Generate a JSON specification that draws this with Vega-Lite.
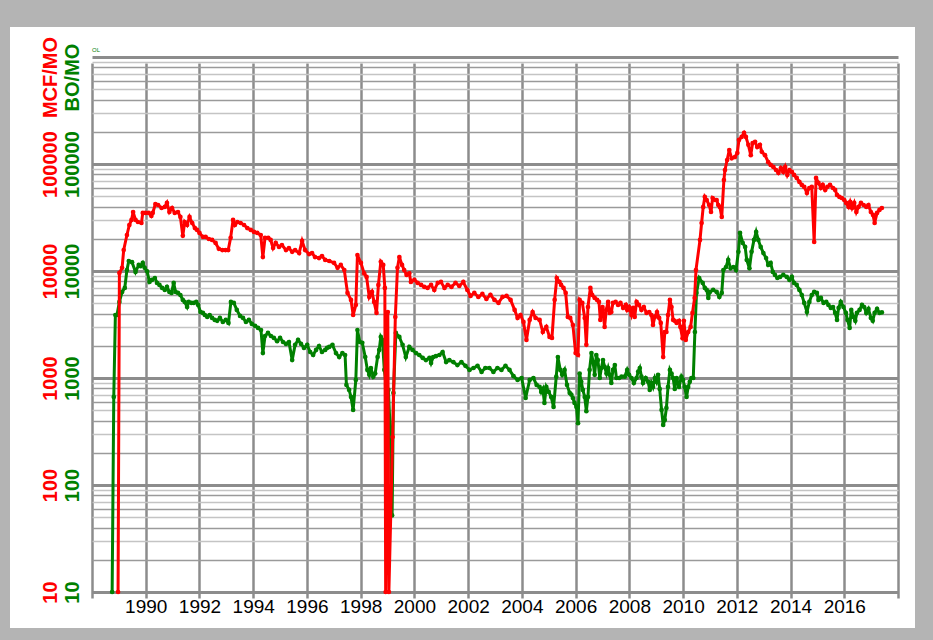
{
"$schema": "https://vega.github.io/schema/vega-lite/v6.json",
"width": 905, "height": 601,
"autosize": "none",
"padding": {"left": 10, "top": 27, "right": 18, "bottom": 12},
"background": "#b4b4b4",
"config": {"view": {"fill": "white", "stroke": null}, "font": "Liberation Sans"},
"title": {"text": "OL", "fontSize": 6, "fontWeight": "normal", "color": "#008000", "anchor": "start", "frame": "group", "dx": 82, "dy": 26, "offset": 0},
"datasets": {
"oil": [
{"year":1988.75,"value":1},{"year":1988.81,"value":665},{"year":1988.87,"value":3880},{"year":1988.93,"value":3880},{"year":1989.02,"value":5140},{"year":1989.12,"value":6370},{"year":1989.22,"value":6950},{"year":1989.30,"value":10200},{"year":1989.37,"value":12400},{"year":1989.49,"value":12100},{"year":1989.62,"value":9800},{"year":1989.74,"value":11400},{"year":1989.81,"value":11100},{"year":1989.89,"value":11900},{"year":1989.96,"value":10700},
{"year":1990.05,"value":9950},{"year":1990.14,"value":7900},{"year":1990.23,"value":8250},{"year":1990.34,"value":8600},{"year":1990.42,"value":7740},{"year":1990.51,"value":7410},{"year":1990.61,"value":6950},{"year":1990.71,"value":6650},{"year":1990.79,"value":7100},{"year":1990.88,"value":6370},{"year":1990.96,"value":6240},
{"year":1991.04,"value":7740},{"year":1991.11,"value":6370},{"year":1991.20,"value":6240},{"year":1991.29,"value":5970},{"year":1991.38,"value":5370},{"year":1991.45,"value":5140},{"year":1991.54,"value":4610},{"year":1991.60,"value":5140},{"year":1991.70,"value":5030},{"year":1991.79,"value":5030},{"year":1991.88,"value":5140},{"year":1991.95,"value":4820},
{"year":1992.04,"value":4140},{"year":1992.13,"value":4060},{"year":1992.20,"value":3880},{"year":1992.29,"value":3720},{"year":1992.38,"value":3880},{"year":1992.47,"value":3640},{"year":1992.57,"value":3490},{"year":1992.66,"value":3420},{"year":1992.76,"value":3640},{"year":1992.87,"value":3340},{"year":1992.98,"value":3490},
{"year":1993.08,"value":3270},{"year":1993.17,"value":5140},{"year":1993.28,"value":5030},{"year":1993.39,"value":4330},{"year":1993.51,"value":3800},{"year":1993.62,"value":3640},{"year":1993.73,"value":3340},{"year":1993.84,"value":3490},{"year":1993.95,"value":3200},
{"year":1994.07,"value":3070},{"year":1994.18,"value":2940},{"year":1994.29,"value":2810},{"year":1994.36,"value":1710},{"year":1994.44,"value":2470},{"year":1994.55,"value":2640},{"year":1994.66,"value":2470},{"year":1994.77,"value":2370},{"year":1994.89,"value":2210},
{"year":1995.00,"value":2370},{"year":1995.11,"value":2170},{"year":1995.22,"value":2080},{"year":1995.33,"value":2170},{"year":1995.45,"value":1470},{"year":1995.56,"value":2040},{"year":1995.67,"value":2270},{"year":1995.78,"value":2080},{"year":1995.89,"value":1910},
{"year":1996.01,"value":2040},{"year":1996.12,"value":1750},{"year":1996.23,"value":1640},{"year":1996.34,"value":1830},{"year":1996.45,"value":1990},{"year":1996.56,"value":1750},{"year":1996.68,"value":1830},{"year":1996.75,"value":1910},{"year":1996.83,"value":1950},{"year":1996.95,"value":2040},
{"year":1997.08,"value":1710},{"year":1997.20,"value":1570},{"year":1997.32,"value":1710},{"year":1997.42,"value":1640},{"year":1997.47,"value":861},{"year":1997.57,"value":774},{"year":1997.64,"value":665},{"year":1997.72,"value":503},{"year":1997.82,"value":959},{"year":1997.88,"value":2810},{"year":1997.97,"value":2170},
{"year":1998.06,"value":2130},{"year":1998.17,"value":1570},{"year":1998.25,"value":1190},{"year":1998.32,"value":1070},{"year":1998.38,"value":1240},{"year":1998.47,"value":1030},{"year":1998.54,"value":1100},{"year":1998.63,"value":1570},{"year":1998.69,"value":1830},{"year":1998.75,"value":2420},{"year":1998.81,"value":2270},{"year":1998.88,"value":1190},{"year":1998.95,"value":861},
{"year":1999.03,"value":774},{"year":1999.10,"value":327},{"year":1999.17,"value":52},{"year":1999.22,"value":725},{"year":1999.31,"value":2640},{"year":1999.44,"value":2420},{"year":1999.56,"value":2040},{"year":1999.68,"value":1570},{"year":1999.81,"value":1950},{"year":1999.93,"value":1830},
{"year":2000.06,"value":1710},{"year":2000.18,"value":1640},{"year":2000.31,"value":1540},{"year":2000.43,"value":1470},{"year":2000.56,"value":1540},{"year":2000.62,"value":1380},{"year":2000.70,"value":1570},{"year":2000.80,"value":1600},{"year":2000.93,"value":1640},
{"year":2001.05,"value":1750},{"year":2001.18,"value":1410},{"year":2001.30,"value":1470},{"year":2001.45,"value":1410},{"year":2001.60,"value":1320},{"year":2001.75,"value":1410},{"year":2001.90,"value":1300},
{"year":2002.05,"value":1190},{"year":2002.20,"value":1240},{"year":2002.35,"value":1300},{"year":2002.50,"value":1140},{"year":2002.64,"value":1240},{"year":2002.79,"value":1240},{"year":2002.94,"value":1140},
{"year":2003.09,"value":1240},{"year":2003.24,"value":1190},{"year":2003.39,"value":1300},{"year":2003.54,"value":1190},{"year":2003.69,"value":1040},{"year":2003.84,"value":959},{"year":2003.99,"value":1000},
{"year":2004.14,"value":650},{"year":2004.29,"value":959},{"year":2004.43,"value":1000},{"year":2004.55,"value":861},{"year":2004.66,"value":825},{"year":2004.72,"value":741},{"year":2004.78,"value":790},{"year":2004.84,"value":585},{"year":2004.91,"value":825},
{"year":2005.00,"value":741},{"year":2005.09,"value":665},{"year":2005.18,"value":537},{"year":2005.28,"value":1030},{"year":2005.34,"value":1570},{"year":2005.43,"value":1190},{"year":2005.50,"value":1070},{"year":2005.59,"value":1190},{"year":2005.68,"value":861},{"year":2005.78,"value":725},{"year":2005.84,"value":700},{"year":2005.90,"value":650},{"year":2005.96,"value":585},
{"year":2006.03,"value":537},{"year":2006.09,"value":378},{"year":2006.15,"value":1100},{"year":2006.21,"value":921},{"year":2006.27,"value":774},{"year":2006.34,"value":665},{"year":2006.40,"value":490},{"year":2006.46,"value":665},{"year":2006.52,"value":1190},{"year":2006.59,"value":1710},{"year":2006.65,"value":1410},{"year":2006.71,"value":1070},{"year":2006.77,"value":1640},{"year":2006.83,"value":1470},{"year":2006.90,"value":1000},{"year":2006.96,"value":1240},
{"year":2007.02,"value":1470},{"year":2007.08,"value":1270},{"year":2007.15,"value":1100},{"year":2007.21,"value":1240},{"year":2007.27,"value":1070},{"year":2007.33,"value":899},{"year":2007.39,"value":1190},{"year":2007.46,"value":1320},{"year":2007.52,"value":1000},{"year":2007.62,"value":1000},{"year":2007.71,"value":1030},{"year":2007.83,"value":1030},{"year":2007.92,"value":1190},{"year":2007.99,"value":1070},
{"year":2008.08,"value":1000},{"year":2008.17,"value":899},{"year":2008.27,"value":1000},{"year":2008.33,"value":1150},{"year":2008.39,"value":1240},{"year":2008.45,"value":1030},{"year":2008.51,"value":899},{"year":2008.61,"value":1000},{"year":2008.70,"value":921},{"year":2008.76,"value":774},{"year":2008.82,"value":899},{"year":2008.88,"value":825},{"year":2008.95,"value":1000},
{"year":2009.01,"value":921},{"year":2009.07,"value":1070},{"year":2009.13,"value":790},{"year":2009.20,"value":503},{"year":2009.26,"value":364},{"year":2009.32,"value":405},{"year":2009.38,"value":525},{"year":2009.44,"value":825},{"year":2009.51,"value":1190},{"year":2009.57,"value":1100},{"year":2009.63,"value":1000},{"year":2009.69,"value":790},{"year":2009.76,"value":1000},{"year":2009.85,"value":825},{"year":2009.94,"value":1030},
{"year":2010.00,"value":959},{"year":2010.06,"value":825},{"year":2010.13,"value":665},{"year":2010.19,"value":825},{"year":2010.25,"value":921},{"year":2010.31,"value":1000},{"year":2010.38,"value":1000},{"year":2010.44,"value":2690},{"year":2010.50,"value":6240},{"year":2010.60,"value":8600},{"year":2010.73,"value":7740},{"year":2010.81,"value":6950},{"year":2010.88,"value":6650},{"year":2010.94,"value":5600},
{"year":2011.00,"value":6370},{"year":2011.12,"value":6650},{"year":2011.25,"value":6370},{"year":2011.35,"value":5720},{"year":2011.44,"value":6240},{"year":2011.50,"value":10200},{"year":2011.60,"value":10900},{"year":2011.68,"value":12700},{"year":2011.77,"value":10600},{"year":2011.87,"value":10900},{"year":2011.97,"value":10200},
{"year":2012.06,"value":15100},{"year":2012.12,"value":22700},{"year":2012.22,"value":18300},{"year":2012.31,"value":16800},{"year":2012.37,"value":12700},{"year":2012.47,"value":10600},{"year":2012.55,"value":15100},{"year":2012.64,"value":19500},{"year":2012.72,"value":23200},{"year":2012.80,"value":19500},{"year":2012.89,"value":16800},{"year":2012.99,"value":14700},
{"year":2013.09,"value":13200},{"year":2013.17,"value":11400},{"year":2013.26,"value":11900},{"year":2013.34,"value":9800},{"year":2013.42,"value":9190},{"year":2013.51,"value":8600},{"year":2013.61,"value":8800},{"year":2013.73,"value":9190},{"year":2013.86,"value":8800},{"year":2013.96,"value":8250},
{"year":2014.05,"value":8800},{"year":2014.13,"value":7740},{"year":2014.23,"value":7410},{"year":2014.33,"value":6650},{"year":2014.42,"value":5970},{"year":2014.51,"value":5030},{"year":2014.61,"value":4140},{"year":2014.70,"value":5140},{"year":2014.79,"value":5970},{"year":2014.88,"value":6370},{"year":2014.98,"value":6240},
{"year":2015.04,"value":5370},{"year":2015.13,"value":5600},{"year":2015.23,"value":5030},{"year":2015.33,"value":5140},{"year":2015.41,"value":4820},{"year":2015.50,"value":4520},{"year":2015.58,"value":4610},{"year":2015.66,"value":4060},{"year":2015.73,"value":3490},{"year":2015.79,"value":4520},{"year":2015.87,"value":5140},{"year":2015.97,"value":4610},
{"year":2016.06,"value":4060},{"year":2016.12,"value":3490},{"year":2016.20,"value":2940},{"year":2016.26,"value":4330},{"year":2016.34,"value":3720},{"year":2016.41,"value":3420},{"year":2016.47,"value":4060},{"year":2016.57,"value":4330},{"year":2016.66,"value":4820},{"year":2016.74,"value":4610},{"year":2016.82,"value":4060},{"year":2016.90,"value":4420},{"year":2016.99,"value":3640},
{"year":2017.06,"value":3420},{"year":2017.13,"value":4060},{"year":2017.22,"value":4420},{"year":2017.31,"value":4060},{"year":2017.40,"value":4100}
],
"gas": [
{"year":1988.97,"value":1},{"year":1989.02,"value":9590},{"year":1989.12,"value":10700},{"year":1989.18,"value":15700},{"year":1989.30,"value":21700},{"year":1989.39,"value":26900},{"year":1989.47,"value":30000},{"year":1989.53,"value":35600},{"year":1989.62,"value":30000},{"year":1989.71,"value":28700},{"year":1989.84,"value":28100},{"year":1989.89,"value":34900},{"year":1989.99,"value":34900},
{"year":1990.11,"value":34900},{"year":1990.21,"value":32700},{"year":1990.26,"value":34900},{"year":1990.36,"value":42300},{"year":1990.46,"value":41400},{"year":1990.59,"value":38800},{"year":1990.71,"value":39700},{"year":1990.79,"value":43300},{"year":1990.88,"value":35600},{"year":1990.98,"value":38800},
{"year":1991.08,"value":34900},{"year":1991.20,"value":35600},{"year":1991.29,"value":32000},{"year":1991.38,"value":21300},{"year":1991.45,"value":28700},{"year":1991.54,"value":26900},{"year":1991.63,"value":32000},{"year":1991.73,"value":28100},{"year":1991.83,"value":25200},{"year":1991.91,"value":24200},
{"year":1992.00,"value":22700},{"year":1992.13,"value":20800},{"year":1992.23,"value":20800},{"year":1992.35,"value":19900},{"year":1992.47,"value":19500},{"year":1992.60,"value":18300},{"year":1992.72,"value":16100},{"year":1992.85,"value":15700},{"year":1992.97,"value":15700},
{"year":1993.07,"value":15700},{"year":1993.16,"value":20400},{"year":1993.25,"value":30000},{"year":1993.32,"value":26900},{"year":1993.41,"value":28700},{"year":1993.53,"value":28100},{"year":1993.66,"value":26900},{"year":1993.78,"value":25200},{"year":1993.91,"value":24200},
{"year":1994.03,"value":23200},{"year":1994.15,"value":22700},{"year":1994.28,"value":21700},{"year":1994.36,"value":13500},{"year":1994.44,"value":20400},{"year":1994.56,"value":20400},{"year":1994.65,"value":19500},{"year":1994.74,"value":16400},{"year":1994.84,"value":18300},{"year":1994.96,"value":16800},
{"year":1995.07,"value":17500},{"year":1995.22,"value":15700},{"year":1995.33,"value":16400},{"year":1995.45,"value":15100},{"year":1995.56,"value":15700},{"year":1995.71,"value":14700},{"year":1995.82,"value":19100},{"year":1995.93,"value":15700},
{"year":1996.08,"value":14400},{"year":1996.19,"value":14700},{"year":1996.30,"value":13500},{"year":1996.45,"value":13200},{"year":1996.56,"value":13800},{"year":1996.68,"value":12700},{"year":1996.83,"value":12400},
{"year":1997.01,"value":11900},{"year":1997.14,"value":10700},{"year":1997.26,"value":11400},{"year":1997.39,"value":10200},{"year":1997.51,"value":6240},{"year":1997.64,"value":5370},{"year":1997.72,"value":3880},{"year":1997.82,"value":4820},{"year":1997.88,"value":14100},
{"year":1998.01,"value":11900},{"year":1998.13,"value":9500},{"year":1998.22,"value":8800},{"year":1998.32,"value":5720},{"year":1998.42,"value":6370},{"year":1998.50,"value":5140},{"year":1998.59,"value":4060},{"year":1998.66,"value":7410},{"year":1998.75,"value":12200},{"year":1998.84,"value":11400},{"year":1998.90,"value":6950},{"year":1998.93,"value":1},
{"year":1999.01,"value":4140},{"year":1999.05,"value":1},{"year":1999.19,"value":281},{"year":1999.29,"value":3720},{"year":1999.37,"value":10700},{"year":1999.44,"value":13500},{"year":1999.54,"value":11400},{"year":1999.62,"value":10200},{"year":1999.71,"value":9190},{"year":1999.81,"value":9500},{"year":1999.87,"value":7900},
{"year":2000.00,"value":8250},{"year":2000.12,"value":7740},{"year":2000.25,"value":7410},{"year":2000.37,"value":7100},{"year":2000.49,"value":6950},{"year":2000.62,"value":7410},{"year":2000.74,"value":6650},{"year":2000.87,"value":7740},{"year":2000.99,"value":7900},
{"year":2001.12,"value":6950},{"year":2001.24,"value":7410},{"year":2001.38,"value":7100},{"year":2001.53,"value":7740},{"year":2001.67,"value":7250},{"year":2001.82,"value":7900},{"year":2001.97,"value":6650},
{"year":2002.09,"value":5850},{"year":2002.23,"value":6240},{"year":2002.38,"value":5720},{"year":2002.53,"value":6100},{"year":2002.68,"value":5480},{"year":2002.83,"value":6000},{"year":2002.98,"value":5370},
{"year":2003.13,"value":5030},{"year":2003.28,"value":5720},{"year":2003.43,"value":5850},{"year":2003.58,"value":5370},{"year":2003.73,"value":4330},{"year":2003.84,"value":3640},{"year":2003.95,"value":3880},
{"year":2004.06,"value":3340},{"year":2004.17,"value":2270},{"year":2004.29,"value":3490},{"year":2004.40,"value":4140},{"year":2004.51,"value":3640},{"year":2004.66,"value":3490},{"year":2004.78,"value":2690},{"year":2004.91,"value":3000},
{"year":2005.03,"value":2420},{"year":2005.12,"value":2370},{"year":2005.22,"value":5370},{"year":2005.30,"value":8600},{"year":2005.40,"value":7900},{"year":2005.46,"value":7410},{"year":2005.55,"value":6950},{"year":2005.63,"value":6240},{"year":2005.71,"value":3720},{"year":2005.80,"value":3640},{"year":2005.90,"value":3130},
{"year":2006.00,"value":1710},{"year":2006.09,"value":1640},{"year":2006.15,"value":5370},{"year":2006.25,"value":5030},{"year":2006.34,"value":3640},{"year":2006.40,"value":2040},{"year":2006.46,"value":4610},{"year":2006.55,"value":6950},{"year":2006.62,"value":5970},{"year":2006.71,"value":5600},{"year":2006.80,"value":5370},{"year":2006.87,"value":5140},{"year":2006.92,"value":3490},
{"year":2007.00,"value":4610},{"year":2007.08,"value":3000},{"year":2007.14,"value":4330},{"year":2007.21,"value":5140},{"year":2007.27,"value":4060},{"year":2007.33,"value":4140},{"year":2007.39,"value":5030},{"year":2007.49,"value":5140},{"year":2007.58,"value":4820},{"year":2007.67,"value":5030},{"year":2007.77,"value":4520},{"year":2007.87,"value":4820},{"year":2007.92,"value":4330},{"year":2007.99,"value":4610},
{"year":2008.08,"value":3880},{"year":2008.14,"value":4520},{"year":2008.20,"value":3720},{"year":2008.27,"value":5140},{"year":2008.36,"value":4820},{"year":2008.45,"value":4330},{"year":2008.54,"value":4610},{"year":2008.64,"value":4060},{"year":2008.74,"value":4140},{"year":2008.82,"value":3880},{"year":2008.88,"value":3130},{"year":2008.95,"value":3720},
{"year":2009.03,"value":4140},{"year":2009.11,"value":3640},{"year":2009.17,"value":3270},{"year":2009.26,"value":1570},{"year":2009.32,"value":2690},{"year":2009.38,"value":2690},{"year":2009.44,"value":3880},{"year":2009.51,"value":5370},{"year":2009.57,"value":4610},{"year":2009.63,"value":3490},{"year":2009.69,"value":3420},{"year":2009.76,"value":3270},{"year":2009.85,"value":3420},{"year":2009.90,"value":3000},{"year":2009.98,"value":2350},
{"year":2010.03,"value":3420},{"year":2010.10,"value":2270},{"year":2010.19,"value":2690},{"year":2010.28,"value":3000},{"year":2010.35,"value":4060},{"year":2010.43,"value":5600},{"year":2010.48,"value":10200},{"year":2010.63,"value":19500},{"year":2010.69,"value":28100},{"year":2010.75,"value":39700},{"year":2010.81,"value":49200},{"year":2010.88,"value":46100},{"year":2010.97,"value":41400},
{"year":2011.04,"value":35600},{"year":2011.10,"value":48100},{"year":2011.19,"value":46100},{"year":2011.25,"value":46100},{"year":2011.31,"value":41400},{"year":2011.37,"value":39700},{"year":2011.44,"value":32000},{"year":2011.52,"value":70900},{"year":2011.56,"value":87900},{"year":2011.64,"value":109000},{"year":2011.72,"value":135000},{"year":2011.81,"value":113000},{"year":2011.93,"value":116000},
{"year":2012.02,"value":127000},{"year":2012.08,"value":168000},{"year":2012.18,"value":179000},{"year":2012.27,"value":195000},{"year":2012.34,"value":179000},{"year":2012.43,"value":151000},{"year":2012.52,"value":121000},{"year":2012.59,"value":157000},{"year":2012.68,"value":161000},{"year":2012.76,"value":144000},{"year":2012.86,"value":151000},{"year":2012.93,"value":130000},
{"year":2013.05,"value":121000},{"year":2013.17,"value":104000},{"year":2013.26,"value":98000},{"year":2013.36,"value":93900},{"year":2013.46,"value":87900},{"year":2013.55,"value":82500},{"year":2013.64,"value":91800},{"year":2013.73,"value":84300},{"year":2013.80,"value":93900},{"year":2013.88,"value":79000},{"year":2013.96,"value":87900},
{"year":2014.05,"value":84300},{"year":2014.13,"value":79000},{"year":2014.23,"value":74100},{"year":2014.33,"value":68000},{"year":2014.42,"value":63700},{"year":2014.51,"value":61000},{"year":2014.61,"value":53600},{"year":2014.70,"value":59700},{"year":2014.79,"value":61000},{"year":2014.88,"value":18700},{"year":2014.95,"value":74100},
{"year":2015.04,"value":66500},{"year":2015.13,"value":59700},{"year":2015.20,"value":63700},{"year":2015.29,"value":57200},{"year":2015.37,"value":61000},{"year":2015.47,"value":63700},{"year":2015.58,"value":59700},{"year":2015.66,"value":57200},{"year":2015.73,"value":51400},{"year":2015.82,"value":49200},{"year":2015.91,"value":48100},
{"year":2016.00,"value":46100},{"year":2016.07,"value":43300},{"year":2016.16,"value":39700},{"year":2016.22,"value":44200},{"year":2016.29,"value":38800},{"year":2016.37,"value":43300},{"year":2016.45,"value":35600},{"year":2016.53,"value":39700},{"year":2016.62,"value":43300},{"year":2016.72,"value":41400},{"year":2016.82,"value":39700},{"year":2016.90,"value":41400},{"year":2016.99,"value":35600},
{"year":2017.07,"value":33400},{"year":2017.13,"value":28100},{"year":2017.22,"value":34900},{"year":2017.31,"value":37200},{"year":2017.40,"value":38800}
]
},
"encoding": {
  "x": {"field": "year", "type": "quantitative",
    "scale": {"domain": [1988, 2018], "range": [82, 888], "nice": false, "zero": false},
    "axis": {"orient": "bottom", "offset": -36, "title": null,
      "values": [1988,1990,1992,1994,1996,1998,2000,2002,2004,2006,2008,2010,2012,2014,2016,2018],
      "grid": true, "gridColor": "#8c8c8c", "gridWidth": 2.5, "domain": false, "ticks": false,
      "labelExpr": "datum.value == 1988 || datum.value == 2018 ? '' : format(datum.value, 'd')",
      "labelFontSize": 19, "labelColor": "#000000", "labelPadding": 5, "labelFlush": false, "labelOverlap": false, "labelBound": false}
  }
},
"layer": [
  {
    "data": {"name": "oil"},
    "mark": {"type": "line", "color": "#008000", "strokeWidth": 3, "clip": true, "point": {"filled": true, "size": 22, "color": "#008000"}},
    "encoding": {
      "y": {"field": "value", "type": "quantitative",
        "scale": {"type": "log", "domain": [10, 1000000], "range": [565, 30], "clamp": true, "nice": false},
        "axis": {"orient": "left", "offset": -82,
          "values": [10,20,30,40,50,60,70,80,90,100,200,300,400,500,600,700,800,900,1000,2000,3000,4000,5000,6000,7000,8000,9000,10000,20000,30000,40000,50000,60000,70000,80000,90000,100000,200000,300000,400000,500000,600000,700000,800000,900000,1000000],
          "grid": true,
          "gridColor": {"condition": [
              {"test": "indexof([10,100,1000,10000,100000,1000000], datum.value) >= 0", "value": "#8c8c8c"},
              {"test": "indexof([20,40,60,80,200,400,600,800,2000,4000,6000,8000,20000,40000,60000,80000,200000,400000,600000,800000], datum.value) >= 0", "value": "#9a9a9a"}],
            "value": "#c4c4c4"},
          "gridWidth": {"condition": {"test": "indexof([10,100,1000,10000,100000,1000000], datum.value) >= 0", "value": 3}, "value": 1.3},
          "domain": false, "ticks": false,
          "labelExpr": "indexof([10,100,1000,10000,100000], datum.value) >= 0 ? format(datum.value, 'd') : ''",
          "labelAngle": -90, "labelAlign": "center", "labelBaseline": "bottom",
          "labelColor": "#008000", "labelFontSize": 20, "labelFontWeight": "bold", "labelPadding": 10,
          "labelOverlap": false, "labelBound": false, "labelFlush": false,
          "title": "BO/MO", "titleColor": "#008000", "titleFontSize": 20, "titleFontWeight": "bold",
          "titleAngle": -90, "titleX": -10, "titleY": 50, "titleAlign": "center", "titleBaseline": "bottom"}
      }
    }
  },
  {
    "data": {"name": "gas"},
    "mark": {"type": "line", "color": "#ff0000", "strokeWidth": 3, "clip": true, "point": {"filled": true, "size": 22, "color": "#ff0000"}},
    "encoding": {
      "y": {"field": "value", "type": "quantitative",
        "axis": {"orient": "left", "offset": -60,
          "values": [10,100,1000,10000,100000],
          "grid": false, "domain": false, "ticks": false,
          "format": "d",
          "labelAngle": -90, "labelAlign": "center", "labelBaseline": "bottom",
          "labelColor": "#ff0000", "labelFontSize": 20, "labelFontWeight": "bold", "labelPadding": 10,
          "labelOverlap": false, "labelBound": false, "labelFlush": false,
          "title": "MCF/MO", "titleColor": "#ff0000", "titleFontSize": 20, "titleFontWeight": "bold",
          "titleAngle": -90, "titleX": -10, "titleY": 50, "titleAlign": "center", "titleBaseline": "bottom"}
      }
    }
  }
],
"resolve": {"axis": {"y": "independent"}}
}
